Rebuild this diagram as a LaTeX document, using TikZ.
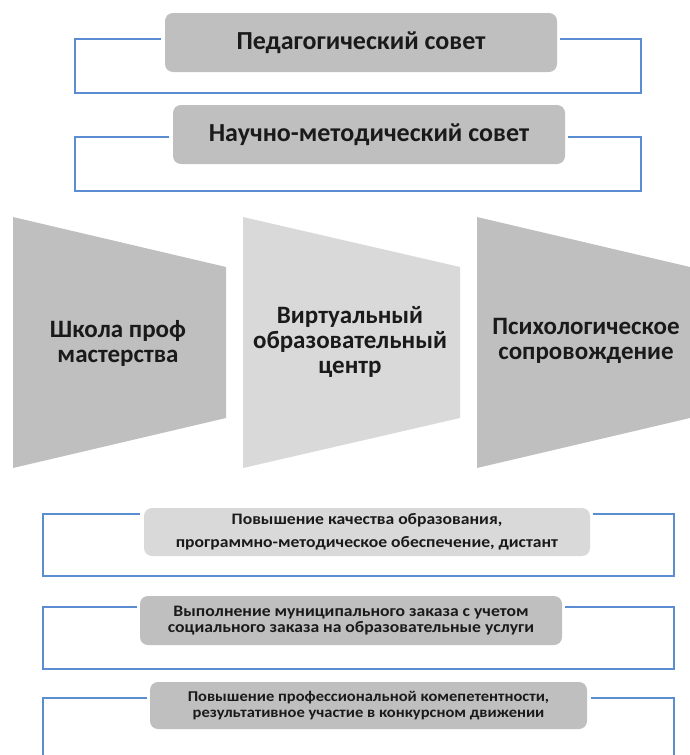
\documentclass[tikz,border=0pt]{standalone}
\usepackage{fontspec}
\setmainfont{Carlito}
\newfontfamily\widefont[FakeStretch=1.1]{Carlito}
\definecolor{gbox}{HTML}{BFBFBF}
\definecolor{glight}{HTML}{D9D9D9}
\definecolor{bline}{HTML}{5B8DD3}
\definecolor{txt}{HTML}{1A1A1A}
\begin{document}
\begin{tikzpicture}[x=1pt,y=-1pt,
  bracket/.style={draw=bline,line width=1.6pt},
  topbox/.style={fill=gbox,rounded corners=8pt,text=txt,font=\bfseries\fontsize{26}{30}\selectfont},
  botbox/.style={rounded corners=8pt,text=txt,font=\widefont\bfseries\fontsize{16}{16.5}\selectfont,align=center},
  traptext/.style={text=txt,align=center,font=\bfseries\fontsize{25}{25}\selectfont}]
\useasboundingbox (0,0) rectangle (689,755);
% top boxes
\node[topbox,minimum width=392pt,minimum height=59pt] (g1) at (361,42.5) {Педагогический совет};
\node[topbox,minimum width=392pt,minimum height=59pt] (g2) at (369,134.5) {Научно-методический совет};
\draw[bracket] ([xshift=-4pt]g1.west |- 0,39) -- (75,39) -- (75,93) -- (641,93) -- (641,39) -- ([xshift=3pt]g1.east |- 0,39);
\draw[bracket] ([xshift=-4pt]g2.west |- 0,137) -- (75,137) -- (75,191) -- (641,191) -- (641,137) -- ([xshift=3pt]g2.east |- 0,137);
% trapezoids
\fill[gbox] (13,217) -- (226,267) -- (226,418) -- (13,468) -- cycle;
\fill[glight] (243,217) -- (460,267) -- (460,418) -- (243,468) -- cycle;
\fill[gbox] (477,217) -- (690,267) -- (690,418) -- (477,468) -- cycle;
\node[traptext] (t1) at (118,343) {Школа проф\\мастерства};
\node[traptext] (t2) at (350,342) {Виртуальный\\образовательный\\центр};
\node[traptext] (t3) at (586,341) {Психологическое\\сопровождение};
% bottom boxes
\node[botbox,fill=glight,minimum width=446pt,minimum height=48pt] (b1) at (367,532) {Повышение качества образования,\\[6pt]программно-методическое обеспечение, дистант};
\node[botbox,fill=gbox,minimum width=422pt,minimum height=49pt] (b2) at (351,620.5) {Выполнение муниципального заказа с учетом\\социального заказа на образовательные услуги};
\node[botbox,fill=gbox,minimum width=437pt,minimum height=47pt,font=\widefont\bfseries\fontsize{15}{16.5}\selectfont] (b3) at (368.5,705.5) {Повышение профессиональной комепетентности,\\результативное участие в конкурсном движении};
\draw[bracket] ([xshift=-4pt]b1.west |- 0,514) -- (43,514) -- (43,576) -- (674,576) -- (674,514) -- ([xshift=3pt]b1.east |- 0,514);
\draw[bracket] ([xshift=-3pt]b2.west |- 0,607) -- (43,607) -- (43,669) -- (674,669) -- (674,607) -- ([xshift=3pt]b2.east |- 0,607);
\draw[bracket] ([xshift=-3pt]b3.west |- 0,698) -- (43,698) -- (43,758) (674,758) -- (674,698) -- ([xshift=4pt]b3.east |- 0,698);
\end{tikzpicture}
\end{document}
